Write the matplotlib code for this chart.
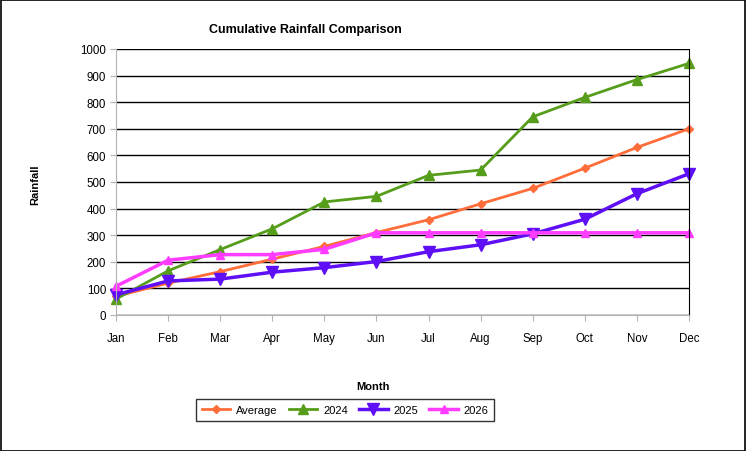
import matplotlib.pyplot as plt
import matplotlib.patches as mpatches

plt.rcParams['font.family'] = ['Liberation Sans', 'DejaVu Sans']

months = ['Jan', 'Feb', 'Mar', 'Apr', 'May', 'Jun', 'Jul', 'Aug', 'Sep', 'Oct', 'Nov', 'Dec']
average = [70, 120, 163, 210, 258, 310, 358, 418, 476, 552, 630, 700]
y2024 = [60, 166, 246, 324, 425, 446, 525, 545, 745, 818, 885, 946]
y2025 = [76, 128, 135, 161, 178, 201, 238, 264, 305, 360, 456, 531]
y2026 = [108, 206, 227, 227, 247, 309, 309, 309, 309, 309, 309, 309]

fig = plt.figure(figsize=(7.46, 4.52), dpi=100)
ax = fig.add_axes([116 / 746, 136 / 452, 573 / 746, 266 / 452])
x = range(len(months))

ax.plot(x, average, color='#ff6d3a', lw=2, marker='D', ms=4, label='Average', clip_on=False)
ax.plot(x, y2024, color='#579d1c', lw=2, marker='^', ms=7.5, label='2024', clip_on=False)
ax.plot(x, y2025, color='#5f0ff5', lw=2.5, marker='v', ms=8.5, label='2025', clip_on=False)
ax.plot(x, y2026, color='#ff3cff', lw=2.5, marker='^', ms=6, label='2026', clip_on=False)

ax.set_xlim(0, len(months) - 1)
ax.set_ylim(0, 1000)
ax.set_xticks(list(x))
ax.set_xticklabels(months)
ax.set_yticks(range(0, 1001, 100))
ax.yaxis.grid(True, color='black', lw=1)
ax.set_axisbelow(True)
ax.tick_params(labelsize=8.3, color='#b3b3b3', length=4, pad=8)
ax.tick_params(axis='y', pad=3)
for s in ['left', 'bottom']:
    ax.spines[s].set_color('#b3b3b3')
ax.spines['right'].set_color('black')
ax.spines['top'].set_visible(False)

fig.text(305 / 746, 1 - 30 / 452, 'Cumulative Rainfall Comparison', ha='center', va='center',
         fontsize=9, fontweight='bold')
fig.text(35 / 746, 1 - 185 / 452, 'Rainfall', rotation=90, ha='center', va='center',
         fontsize=8, fontweight='bold')
fig.text(373 / 746, 1 - 387 / 452, 'Month', ha='center', va='center',
         fontsize=8, fontweight='bold')

leg = fig.legend(loc='center', bbox_to_anchor=(345 / 746, 1 - 411 / 452), ncol=4, fontsize=8,
                 frameon=True, fancybox=False, edgecolor='black', handlelength=2.6,
                 handletextpad=0.5, columnspacing=1.0, borderpad=0.5)
leg.get_frame().set_linewidth(1)

fig.patches.append(mpatches.Rectangle((0.001, 0.001), 0.997, 0.997, transform=fig.transFigure,
                                      fill=False, edgecolor='black', lw=1.2))

plt.savefig('out.png', dpi=100)
